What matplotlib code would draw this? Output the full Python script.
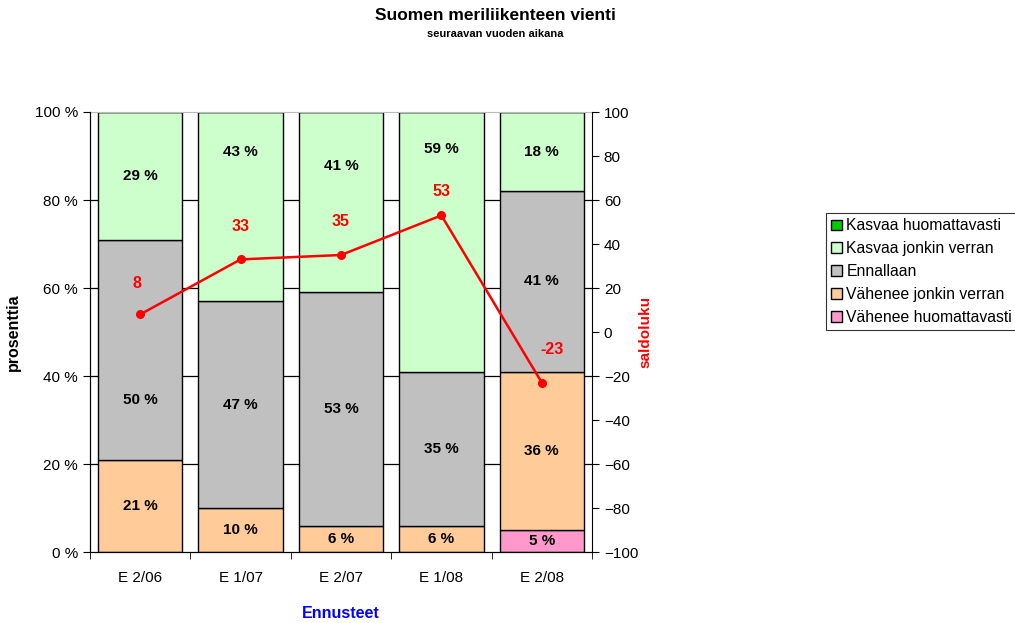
import numpy as np
import matplotlib.pyplot as plt
from matplotlib.patches import Patch

plt.rcParams['font.family'] = ['Liberation Sans', 'DejaVu Sans']

# datos
kategoriat = ['E 2/06', 'E 1/07', 'E 2/07', 'E 1/08', 'E 2/08']
vahenee_huom = [0, 0, 0, 0, 5]
vahenee_jonkin = [21, 10, 6, 6, 36]
ennallaan = [50, 47, 53, 35, 41]
kasvaa_jonkin = [29, 43, 41, 59, 18]
kasvaa_huom = [0, 0, 0, 0, 0]
saldoluku = [8, 33, 35, 53, -23]

sarjat = [
    ('Vähenee huomattavasti', vahenee_huom, '#FF99CC'),
    ('Vähenee jonkin verran', vahenee_jonkin, '#FFCC99'),
    ('Ennallaan', ennallaan, '#C0C0C0'),
    ('Kasvaa jonkin verran', kasvaa_jonkin, '#CCFFCC'),
    ('Kasvaa huomattavasti', kasvaa_huom, '#00CC00'),
]

# etiquetas movidas a mano (serie, columna) -> altura en %
siirrot = {
    ('Kasvaa jonkin verran', 1): 90.9,
    ('Kasvaa jonkin verran', 2): 87.7,
    ('Kasvaa jonkin verran', 3): 91.6,
    ('Ennallaan', 0): 34.5,
}
# desplazamiento de las etiquetas del saldo (puntos)
saldo_dx = [-2, 0, 0, 0, 7]
saldo_dy = [22, 24, 24, 17, 24]

fig = plt.figure(figsize=(10.15, 6.23), dpi=100)
ax = fig.add_axes([90 / 1015, 1 - 552 / 623, 502 / 1015, 440 / 623])
x = np.arange(len(kategoriat))

# rejilla detras de las barras
for yv in [20, 40, 60, 80]:
    ax.axhline(yv, color='black', lw=0.9, zorder=0)

pohja = np.zeros(len(kategoriat))
for nimi, arvot, vari in sarjat:
    arvot = np.array(arvot, dtype=float)
    ax.bar(x, arvot, bottom=pohja, width=0.84, color=vari, edgecolor='black',
           linewidth=1.0, zorder=2)
    for i, (xi, b, v) in enumerate(zip(x, pohja, arvot)):
        if v > 0:
            yk = siirrot.get((nimi, i), b + v / 2)
            ax.text(xi, yk, f'{int(v)} %', ha='center', va='center',
                    fontsize=11, fontweight='bold', zorder=4)
    pohja += arvot

ax.set_xlim(-0.5, len(kategoriat) - 0.5)
ax.set_ylim(0, 100)
ax.set_yticks(range(0, 101, 20))
ax.set_yticklabels([f'{v} %' for v in range(0, 101, 20)], fontsize=11)
ax.set_xticks(x)
ax.set_xticklabels(kategoriat, fontsize=11)
ax.set_xticks(np.arange(-0.5, len(kategoriat)), minor=True)
ax.tick_params(axis='x', which='major', length=0, pad=14)
ax.tick_params(axis='x', which='minor', length=5)
ax.tick_params(axis='y', length=5)
ax.spines['top'].set_color('#BBBBBB')
ax.spines['right'].set_visible(False)
ax.set_ylabel('prosenttia', fontsize=11.5, fontweight='bold', labelpad=10)
fig.text(341 / 1015, 1 - 614 / 623, 'Ennusteet', ha='center', va='center',
         fontsize=11.5, fontweight='bold', color='#0000FF')

ax2 = ax.twinx()
ax2.plot(x, saldoluku, color='#FF0000', lw=1.8, marker='o', markersize=5.5, zorder=5)
for xi, s, dx, dy in zip(x, saldoluku, saldo_dx, saldo_dy):
    ax2.annotate(str(s), (xi, s), xytext=(dx, dy), textcoords='offset points',
                 ha='center', va='center', color='#FF0000', fontsize=11.5, fontweight='bold')
ax2.set_ylim(-100, 100)
ax2.set_yticks(range(-100, 101, 20))
ax2.tick_params(axis='y', labelsize=11, length=5)
ax2.spines['top'].set_visible(False)
ax2.set_ylabel('saldoluku', fontsize=11, fontweight='bold', color='#FF0000', labelpad=0)

fig.text(0.488, 1 - 16 / 623, 'Suomen meriliikenteen vienti', ha='center', va='center',
         fontsize=12.5, fontweight='bold')
fig.text(0.488, 1 - 34 / 623, 'seuraavan vuoden aikana', ha='center', va='center',
         fontsize=8, fontweight='bold')

kahvat = [Patch(facecolor=v, edgecolor='black', label=n) for n, _, v in reversed(sarjat)]
leg = fig.legend(handles=kahvat, loc='upper left', bbox_to_anchor=(826 / 1015, 1 - 213 / 623),
                 fontsize=11.3, frameon=True, fancybox=False, edgecolor='black',
                 handlelength=0.7, handleheight=0.7, handletextpad=0.25,
                 borderpad=0.35, labelspacing=0.5, borderaxespad=0)
leg.get_frame().set_linewidth(0.8)

fig.savefig('out.png', dpi=100)
